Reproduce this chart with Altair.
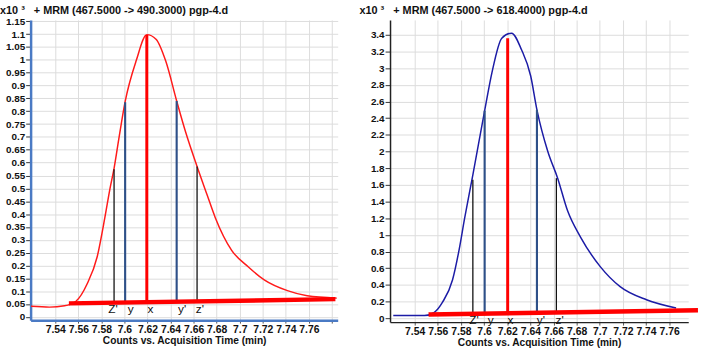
import altair as alt
import pandas as pd

FONT = "Liberation Sans"
SP = "\u00a0" * 3

# ---------------- Left panel (467.5 -> 490.3) ----------------
left_title = "x10 \u00b3" + SP + "+ MRM (467.5000 -> 490.3000) pgp-4.d"
left_t = [7.519, 7.535, 7.548, 7.5577, 7.5678, 7.5763, 7.583, 7.5875, 7.591, 7.5954,
          7.6006, 7.6103, 7.6194, 7.6274, 7.6359, 7.6453, 7.653, 7.663, 7.6716,
          7.6788, 7.693, 7.7073, 7.7216, 7.7414, 7.7585, 7.7842]
left_v = [0.041, 0.038, 0.043, 0.06, 0.13, 0.233, 0.386, 0.5, 0.578, 0.70,
          0.837, 0.998, 1.098, 1.08, 0.994, 0.84, 0.72, 0.585, 0.476,
          0.386, 0.259, 0.195, 0.143, 0.102, 0.082, 0.073]
left_base_t = [7.5518, 7.783]
left_base_v = [0.0526, 0.069]
left_mark_t = [7.591, 7.6006, 7.6194, 7.6453, 7.663]
left_mark_top = [0.574, 0.835, 1.097, 0.84, 0.585]
left_mark_bottom = [0.054, 0.055, 0.056, 0.058, 0.059]
left_label_t = [7.590, 7.6054, 7.6226, 7.650, 7.6654]
left_label_v = [0.03, 0.03, 0.03, 0.03, 0.03]
left_yticks = [0, 0.05, 0.1, 0.15, 0.2, 0.25, 0.3, 0.35, 0.4, 0.45, 0.5, 0.55, 0.6,
               0.65, 0.7, 0.75, 0.8, 0.85, 0.9, 0.95, 1, 1.05, 1.1, 1.15]
left_xticks = [7.54, 7.56, 7.58, 7.6, 7.62, 7.64, 7.66, 7.68, 7.7, 7.72, 7.74, 7.76, 7.78]
left_xdomain = [7.5186, 7.785]
left_ydomain = [-0.0127, 1.155]

# ---------------- Right panel (467.5 -> 618.4) ----------------
right_title = "x10 \u00b3" + SP + "+ MRM (467.5000 -> 618.4000) pgp-4.d"
right_t = [7.5215, 7.5485, 7.557, 7.5641, 7.5727, 7.5784, 7.5832, 7.5903, 7.6005,
           7.6068, 7.6153, 7.6238, 7.6324, 7.6403, 7.6457, 7.6551, 7.6636, 7.6722,
           7.6835, 7.7006, 7.7176, 7.7404, 7.766]
right_v = [0.032, 0.032, 0.071, 0.193, 0.458, 0.82, 1.2, 1.72, 2.49,
           2.947, 3.36, 3.42, 3.22, 2.906, 2.5, 2.0, 1.68, 1.288,
           0.97, 0.616, 0.379, 0.221, 0.122]
right_base_t = [7.552, 7.7849]
right_base_v = [0.045, 0.0947]
right_mark_t = [7.5903, 7.6005, 7.6204, 7.6457, 7.6625]
right_mark_top = [1.66, 2.49, 3.36, 2.50, 1.68]
right_mark_bottom = [0.053, 0.055, 0.06, 0.065, 0.068]
right_label_t = [7.5912, 7.6057, 7.6227, 7.6491, 7.6653]
right_label_v = [-0.02, -0.02, -0.02, -0.02, -0.02]
right_yticks = [0, 0.2, 0.4, 0.6, 0.8, 1, 1.2, 1.4, 1.6, 1.8, 2, 2.2, 2.4, 2.6, 2.8,
                3, 3.2, 3.4]
right_xticks = [7.54, 7.56, 7.58, 7.6, 7.62, 7.64, 7.66, 7.68, 7.7, 7.72, 7.74, 7.76]
right_xdomain = [7.5187, 7.7765]
right_ydomain = [-0.047, 3.578]

# ---------------- shared ----------------
mark_kind = ["outer", "inner", "apex", "inner", "outer"]
mark_label = ["Z'", "y", "x", "y'", "z'"]
x_title = "Counts vs. Acquisition Time (min)"


def panel(title, t, v, base_t, base_v, mk_t, mk_top, mk_bot, lb_t, lb_v,
          xticks, yticks, xdom, ydom, curve_color, axis_color, axis_width,
          width, height, title_offset):
    curve = pd.DataFrame({"t": t, "v": v})
    base = pd.DataFrame({"t": base_t, "v": base_v})
    marks = pd.DataFrame({"t": mk_t, "top": mk_top, "bottom": mk_bot, "kind": mark_kind})
    labels = pd.DataFrame({"t": lb_t, "v": lb_v, "label": mark_label})

    xs = alt.Scale(domain=xdom, nice=False, zero=False)
    ys = alt.Scale(domain=ydom, nice=False, zero=False)
    xaxis = alt.Axis(values=xticks, tickCount=40, format="~g",
                     labelExpr="datum.value > 7.77 ? '' : datum.label",
                     labelOverlap=False, labelFlush=False,
                     title=x_title, titleFont=FONT, titleFontSize=10.3,
                     titleFontWeight="bold", titleColor="#111", titlePadding=0,
                     labelFont=FONT, labelFontSize=10.5, labelFontWeight="bold",
                     labelColor="#111", labelPadding=2, tickSize=3,
                     tickColor="#555", grid=True, gridColor="#dcdcdc",
                     domainColor=axis_color, domainWidth=axis_width)
    yaxis = alt.Axis(values=yticks, tickCount=60, format="~g", labelOverlap=False,
                     labelFont=FONT, labelFontSize=10, labelFontWeight="bold",
                     labelColor="#111", labelPadding=1, tickSize=5,
                     tickColor="#333", grid=True, gridColor="#dcdcdc",
                     domainColor=axis_color, domainWidth=axis_width)

    line = alt.Chart(curve).mark_line(color=curve_color, strokeWidth=1.5,
                                      interpolate="monotone", clip=True).encode(
        x=alt.X("t:Q", scale=xs, axis=xaxis),
        y=alt.Y("v:Q", scale=ys, axis=yaxis, title=None))
    rules = alt.Chart(marks).mark_rule().encode(
        x=alt.X("t:Q", scale=xs),
        y=alt.Y("bottom:Q", scale=ys),
        y2="top:Q",
        color=alt.Color("kind:N", scale=alt.Scale(domain=["outer", "inner", "apex"],
                                                  range=["#111111", "#2e5088", "#ff0000"]),
                        legend=None),
        strokeWidth=alt.StrokeWidth("kind:N",
                                    scale=alt.Scale(domain=["outer", "inner", "apex"],
                                                    range=[1.3, 3, 4.5]),
                                    legend=None))
    baseline = alt.Chart(base).mark_line(color="#ff0000", strokeWidth=4.5).encode(
        x=alt.X("t:Q", scale=xs), y=alt.Y("v:Q", scale=ys))
    text = alt.Chart(labels).mark_text(font=FONT, fontSize=12, color="#111",
                                       baseline="middle").encode(
        x=alt.X("t:Q", scale=xs), y=alt.Y("v:Q", scale=ys), text="label:N")

    return alt.layer(line, rules, baseline, text).properties(
        width=width, height=height,
        title=alt.TitleParams(title, anchor="start", frame="group", offset=title_offset,
                              dx=-31, fontSize=11, fontWeight="bold", font=FONT,
                              color="#111"))


left = panel(left_title, left_t, left_v, left_base_t, left_base_v, left_mark_t,
             left_mark_top, left_mark_bottom, left_label_t, left_label_v,
             left_xticks, left_yticks, left_xdomain, left_ydomain, "#ff1a1a",
             "#4a7ac4", 2.5, 311, 304, 0)
right = panel(right_title, right_t, right_v, right_base_t, right_base_v, right_mark_t,
              right_mark_top, right_mark_bottom, right_label_t, right_label_v,
              right_xticks, right_yticks, right_xdomain, right_ydomain, "#1c1ca6",
              "#222222", 1.5, 302, 306, 4)

chart = alt.hconcat(left, right, spacing=53, bounds="flush").properties(
    padding={"left": 0, "top": 3, "right": 0, "bottom": 0},
    background="white",
).configure_view(stroke=None)

chart.save("out.html", embed_options={"renderer": "svg", "actions": False})
